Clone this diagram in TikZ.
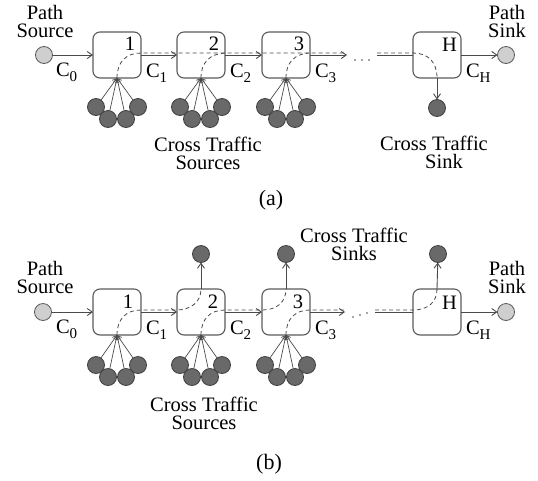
\documentclass[tikz,border=0pt]{standalone}
\usepackage{fontspec}
\setmainfont{Liberation Serif}
\usetikzlibrary{arrows.meta,calc}
\definecolor{linec}{HTML}{4A4A4A}
\definecolor{boxc}{HTML}{5A5A5A}
\definecolor{lightfill}{HTML}{CFCFCF}
\definecolor{darkfill}{HTML}{696969}
\begin{document}
\begin{tikzpicture}[x=1pt,y=-1pt,
  every node/.style={inner sep=0pt, outer sep=0pt},
  lbl/.style={font=\fontsize{20.5}{18.5}\selectfont},
  two/.style={font=\fontsize{20.5}{18.5}\selectfont, align=center, anchor=south},
  captext/.style={font=\fontsize{22}{22}\selectfont},
  router/.style={draw=boxc, line width=1.1pt, rounded corners=7pt, minimum width=48pt, minimum height=46pt},
  lightc/.style={circle, draw=boxc, fill=lightfill, minimum size=17pt, line width=0.8pt},
  darkc/.style={circle, draw=black!75, fill=darkfill, minimum size=17pt, line width=0.8pt},
  link/.style={draw=linec, line width=0.9pt, -{Straight Barb[length=5pt,width=7pt]}},
  plain/.style={draw=linec, line width=0.9pt},
  flow/.style={draw=linec, dash pattern=on 4pt off 3pt, line width=0.8pt},
  dotm/.style={fill=linec, circle, minimum size=1.6pt},
]
\useasboundingbox (0,0) rectangle (538,480);

% ================= (a) =================
\node[two] (psAt) at (45,38) {Path\\Source};
\node[lightc] (psA) at (44,55) {};
\node[two] (pkAt) at (507,38) {Path\\Sink};
\node[lightc] (pkA) at (506,55) {};

\node[router] (a1) at (117,55) {};
\node[router] (a2) at (201,55) {};
\node[router] (a3) at (286,55) {};
\node[router] (a4) at (437,55) {};

\node[lbl, anchor=base east] (a1n) at (135,50) {1};
\node[lbl, anchor=base east] (a2n) at (219,50) {2};
\node[lbl, anchor=base east] (a3n) at (304,50) {3};
\node[lbl, anchor=base east] (a4n) at (457,51) {H};

\coordinate (aD1) at (347,55);
\coordinate (aD2) at (377,55);
\draw[link] (psA) -- (a1.west);
\draw[link] (a1.east) -- (a2.west);
\draw[link] (a2.east) -- (a3.west);
\draw[link] (a3.east) -- (aD1);
\draw[plain] (aD2) -- (a4.west);
\draw[link] (a4.east) -- (pkA);

\node[dotm] (aDot1) at (355,60) {};
\node[dotm] (aDot2) at (362,60) {};
\node[dotm] (aDot3) at (369,60) {};

\node[lbl, anchor=base west] (aC0) at (56,76) {C\raisebox{-5pt}{\fontsize{15}{15}\selectfont 0}};
\node[lbl, anchor=base west] (aC1) at (146,77) {C\raisebox{-5pt}{\fontsize{15}{15}\selectfont 1}};
\node[lbl, anchor=base west] (aC2) at (230,77) {C\raisebox{-5pt}{\fontsize{15}{15}\selectfont 2}};
\node[lbl, anchor=base west] (aC3) at (315,77) {C\raisebox{-5pt}{\fontsize{15}{15}\selectfont 3}};
\node[lbl, anchor=base west] (aCH) at (466,77) {C\raisebox{-5pt}{\fontsize{15}{15}\selectfont H}};

% dashed cross traffic
\draw[flow] (a1.south) .. controls (117,62) and (126,53) .. (141,53) -- (345,53);
\draw[flow] (a2.south) .. controls (201,62) and (210,54) .. (225,53);
\draw[flow] (a3.south) .. controls (286,62) and (295,54) .. (309,53);
\draw[flow] (377,53) -- (413,53) .. controls (428,53) and (437,62) .. (a4.south);

% sources
\foreach \b/\x in {1/117,2/201,3/286}{
  \node[darkc] (aS\b a) at (\x-21,107) {};
  \node[darkc] (aS\b d) at (\x+21,107) {};
  \node[darkc] (aS\b b) at (\x-9,119) {};
  \node[darkc] (aS\b c) at (\x+9,119) {};
  \foreach \s in {a,b,c,d}{
    \draw[link, line width=0.7pt, -{Straight Barb[length=4pt,width=5pt]}] (aS\b\s) -- (a\b.south);
  }
}
\node[darkc] (aK) at (437,108) {};
\draw[link] (a4.south) -- (aK);

\node[two] (aSrc) at (208,170) {Cross Traffic\\Sources};
\node[two] (aSnk) at (434,169) {Cross Traffic\\\hspace*{20pt}Sink};
\node[captext, anchor=base] (capA) at (271,205) {(a)};

% ================= (b) =================
\node[two] (psBt) at (45,294) {Path\\Source};
\node[lightc] (psB) at (43,312) {};
\node[two] (pkBt) at (507,294) {Path\\Sink};
\node[lightc] (pkB) at (506,312) {};

\node[router] (b1) at (117,312) {};
\node[router] (b2) at (201,312) {};
\node[router] (b3) at (286,312) {};
\node[router] (b4) at (437,312) {};

\node[lbl, anchor=base east] (b1n) at (133,308) {1};
\node[lbl, anchor=base east] (b2n) at (218,308) {2};
\node[lbl, anchor=base east] (b3n) at (303,308) {3};
\node[lbl, anchor=base east] (b4n) at (457,309) {H};

\coordinate (bD1) at (345,312);
\coordinate (bD2) at (375,312);
\draw[link] (psB) -- (b1.west);
\draw[link] (b1.east) -- (b2.west);
\draw[link] (b2.east) -- (b3.west);
\draw[link] (b3.east) -- (bD1);
\draw[plain] (bD2) -- (b4.west);
\draw[link] (b4.east) -- (pkB);

\node[dotm] (bDot1) at (353,317) {};
\node[dotm] (bDot2) at (360,315) {};
\node[dotm] (bDot3) at (367,313) {};

\node[lbl, anchor=base west] (bC0) at (56,333) {C\raisebox{-5pt}{\fontsize{15}{15}\selectfont 0}};
\node[lbl, anchor=base west] (bC1) at (146,334) {C\raisebox{-5pt}{\fontsize{15}{15}\selectfont 1}};
\node[lbl, anchor=base west] (bC2) at (230,334) {C\raisebox{-5pt}{\fontsize{15}{15}\selectfont 2}};
\node[lbl, anchor=base west] (bC3) at (315,334) {C\raisebox{-5pt}{\fontsize{15}{15}\selectfont 3}};
\node[lbl, anchor=base west] (bCH) at (466,334) {C\raisebox{-5pt}{\fontsize{15}{15}\selectfont H}};

% dashed one-hop cross traffic
\draw[flow] (b1.south) .. controls (117,319) and (126,310) .. (141,310) -- (176,310) .. controls (191,310) and (201,302) .. (b2.north);
\draw[flow] (b2.south) .. controls (201,319) and (210,310) .. (225,310) -- (262,310) .. controls (277,310) and (286,302) .. (b3.north);
\draw[flow] (b3.south) .. controls (286,319) and (295,310) .. (310,310) -- (344,310);
\draw[flow] (375,310) -- (413,310) .. controls (428,310) and (437,302) .. (b4.north);

\foreach \b/\x in {1/117,2/201,3/286}{
  \node[darkc] (bS\b a) at (\x-21,365) {};
  \node[darkc] (bS\b d) at (\x+21,365) {};
  \node[darkc] (bS\b b) at (\x-9,377) {};
  \node[darkc] (bS\b c) at (\x+9,377) {};
  \foreach \s in {a,b,c,d}{
    \draw[link, line width=0.7pt, -{Straight Barb[length=4pt,width=5pt]}] (bS\b\s) -- (b\b.south);
  }
}
\node[darkc] (bK2) at (201,254) {};
\node[darkc] (bK3) at (286,254) {};
\node[darkc] (bK4) at (438,254) {};
\draw[link] (b2.north) -- (bK2);
\draw[link] (b3.north) -- (bK3);
\draw[link] (b4.north) -- (bK4);

\node[two] (bSnk) at (354,261) {Cross Traffic\\Sinks};
\node[two] (bSrc) at (204,430) {Cross Traffic\\Sources};
\node[captext, anchor=base] (capB) at (269,469) {(b)};
\end{tikzpicture}
\end{document}
